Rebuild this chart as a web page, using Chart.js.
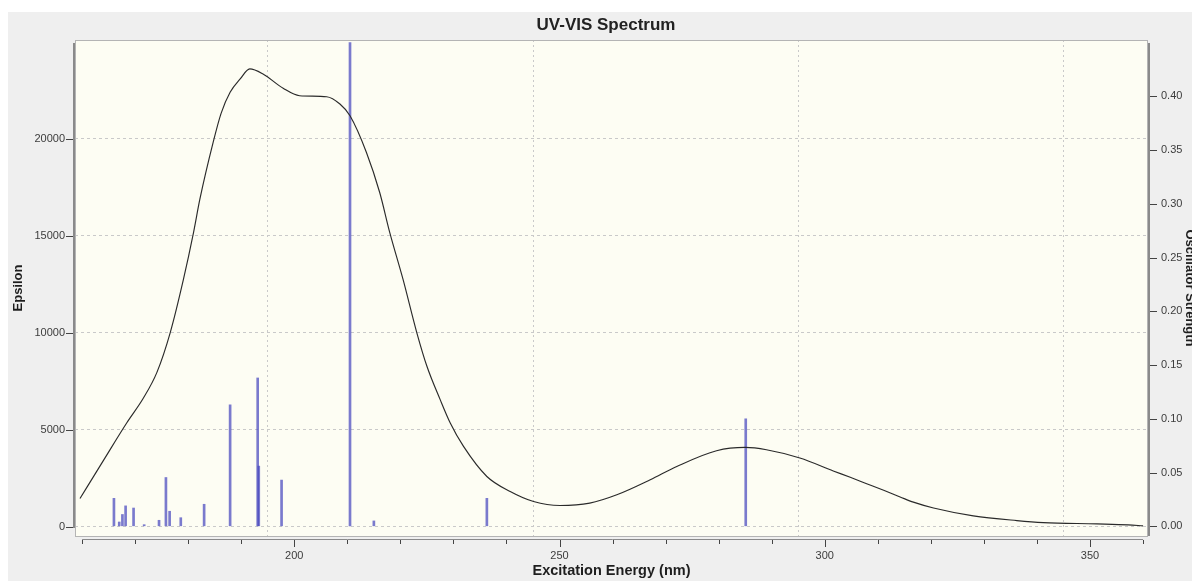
<!DOCTYPE html>
<html>
<head>
<meta charset="utf-8">
<title>UV-VIS Spectrum</title>
<script src="https://cdn.jsdelivr.net/npm/chart.js@4.4.1/dist/chart.umd.min.js"></script>
<style>
  html, body { margin: 0; padding: 0; background: #ffffff; }
  #wrap { width: 1192px; height: 581px; position: relative; }
</style>
</head>
<body>
<div id="wrap"><canvas id="spectrum" width="1192" height="581"></canvas></div>
<script>
// Broadened absorption envelope: wavelength (nm) and molar absorptivity
const specWavelength = [159.6, 164.0, 168.4, 171.5, 174.1, 176.6, 179.1, 181.0, 182.2, 184.7,
  186.2, 187.9, 189.8, 191.6, 194.1, 197.9, 201.0, 206.1, 208.6, 210.5,
  213.6, 216.1, 218.0, 220.5, 223.1, 225.0, 227.5, 229.4, 231.9, 236.3,
  240.7, 245.1, 250.1, 255.7, 260.8, 267.1, 272.1, 279.6, 285.0, 289.0,
  295.3, 301.6, 304.8, 307.9, 311.1, 314.2, 316.7, 320.5, 328.0, 336.2,
  341.2, 351.3, 357.2, 360.0];
const specEpsilon = [1450, 3400, 5340, 6600, 7950, 9989, 12742, 15154, 16874, 19803,
  21300, 22385, 23073, 23590, 23331, 22592, 22210, 22158, 21780, 21177,
  19286, 17220, 15154, 12742, 9989, 8264, 6544, 5340, 4132, 2583,
  1808, 1291, 1085, 1209, 1637, 2412, 3099, 3910, 4080, 3961,
  3533, 2870, 2540, 2210, 1870, 1530, 1260, 960, 553, 310,
  207, 139, 88, 36];

// Individual excited states: wavelength (nm) and oscillator strength
const stickWavelength = [166.0, 167.0, 167.6, 168.2, 169.7, 171.7, 174.5, 175.8, 176.5, 178.6,
  183.0, 187.9, 193.1, 193.3, 197.6, 210.5, 215.0, 236.3, 285.1];
const stickStrength = [0.026, 0.004, 0.011, 0.019, 0.017, 0.0015, 0.0056, 0.0454, 0.014, 0.008,
  0.0205, 0.113, 0.138, 0.056, 0.043, 0.450, 0.005, 0.026, 0.100];

// Tick positions
const xTickValues = [160, 170, 180, 190, 200, 210, 220, 230, 240, 250, 260, 270, 280, 290, 300, 310, 320, 330, 340, 350, 360];
const epsTickValues = [0, 5000, 10000, 15000, 20000];
const oscTickValues = [0, 0.05, 0.10, 0.15, 0.20, 0.25, 0.30, 0.35, 0.40];

const chartTitle = 'UV-VIS Spectrum';
const xTitle = 'Excitation Energy (nm)';
const epsTitle = 'Epsilon';
const oscTitle = 'Oscillator Strength';

const FONT = '"Liberation Sans", Arial, Helvetica, sans-serif';
const TICK_COLOR = '#3c3c3c';
const GRID_COLOR = '#c9c9c9';

// Window backdrop, plot panel, frame, axis lines, tick marks and title
const decorations = {
  id: 'decorations',
  beforeDraw(chart) {
    const { ctx, chartArea: a, width, height } = chart;
    ctx.save();
    ctx.fillStyle = '#ffffff';
    ctx.fillRect(0, 0, width, height);
    ctx.fillStyle = '#efefef';
    ctx.fillRect(8, 12, width - 8, height - 12);
    ctx.fillStyle = '#fdfdf3';
    ctx.fillRect(a.left, a.top, a.right - a.left, a.bottom - a.top);
    ctx.restore();
  },
  afterDraw(chart) {
    const { ctx, chartArea: a, scales } = chart;
    const xs = scales.x, ye = scales.yEps, yo = scales.yOsc;
    ctx.save();
    // panel frame
    ctx.strokeStyle = '#b4b4b4';
    ctx.lineWidth = 1;
    ctx.strokeRect(a.left + 0.5, a.top + 0.5, a.right - a.left - 1, a.bottom - a.top);

    // axis lines
    ctx.strokeStyle = '#8a8a8a';
    ctx.lineWidth = 2;
    ctx.beginPath();
    ctx.moveTo(a.left - 1, a.top + 3);
    ctx.lineTo(a.left - 1, a.bottom - 8);
    ctx.moveTo(a.right + 1, a.top + 3);
    ctx.lineTo(a.right + 1, a.bottom);
    ctx.stroke();
    ctx.lineWidth = 1;
    ctx.beginPath();
    ctx.moveTo(xs.getPixelForValue(xTickValues[0]), a.bottom + 3.5);
    ctx.lineTo(xs.getPixelForValue(xTickValues[xTickValues.length - 1]), a.bottom + 3.5);
    ctx.stroke();

    // tick marks
    ctx.strokeStyle = '#444444';
    ctx.lineWidth = 1;
    ctx.beginPath();
    epsTickValues.forEach(v => {
      const y = Math.round(ye.getPixelForValue(v)) + 0.5;
      ctx.moveTo(a.left - 9, y);
      ctx.lineTo(a.left - 2, y);
    });
    oscTickValues.forEach(v => {
      const y = Math.round(yo.getPixelForValue(v)) + 0.5;
      ctx.moveTo(a.right + 2, y);
      ctx.lineTo(a.right + 9, y);
    });
    xTickValues.forEach(v => {
      const x = Math.round(xs.getPixelForValue(v)) + 0.5;
      ctx.moveTo(x, a.bottom + 4);
      ctx.lineTo(x, a.bottom + (v % 50 === 0 ? 11 : 8));
    });
    ctx.stroke();

    // chart title
    ctx.fillStyle = '#222222';
    ctx.font = 'bold 17px ' + FONT;
    ctx.textAlign = 'center';
    ctx.textBaseline = 'middle';
    ctx.fillText(chartTitle, 606, 25);
    ctx.restore();
  }
};

const curvePoints = specWavelength.map((w, i) => ({ x: w, y: specEpsilon[i] }));
const stickPoints = stickWavelength.map((w, i) => ({ x: w, y: stickStrength[i] }));

new Chart(document.getElementById('spectrum'), {
  type: 'line',
  data: {
    datasets: [
      {
        type: 'line',
        label: 'Epsilon',
        data: curvePoints,
        xAxisID: 'x',
        yAxisID: 'yEps',
        borderColor: '#2a2a2a',
        borderWidth: 1.15,
        pointRadius: 0,
        fill: false,
        cubicInterpolationMode: 'monotone',
        order: 0
      },
      {
        type: 'bar',
        label: 'Oscillator Strength',
        data: stickPoints,
        xAxisID: 'x',
        yAxisID: 'yOsc',
        backgroundColor: 'rgba(70, 70, 190, 0.72)',
        borderWidth: 0,
        barThickness: 2,
        grouped: false,
        order: 1
      }
    ]
  },
  options: {
    responsive: false,
    animation: false,
    events: [],
    layout: { padding: { top: 40, left: 0, right: 0, bottom: 0 } },
    plugins: {
      legend: { display: false },
      title: { display: false },
      tooltip: { enabled: false }
    },
    scales: {
      x: {
        type: 'linear',
        position: 'bottom',
        min: 158.66,
        max: 360.93,
        offset: false,
        afterBuildTicks: s => { s.ticks = xTickValues.map(v => ({ value: v })); },
        afterFit: s => { s.height = 45; },
        ticks: {
          autoSkip: false,
          maxRotation: 0,
          padding: 13,
          color: TICK_COLOR,
          font: { family: FONT, size: 11 },
          callback: v => (v % 50 === 0 ? String(v) : '')
        },
        grid: {
          color: c => (c.tick && c.tick.value % 50 === 0 ? GRID_COLOR : 'rgba(0,0,0,0)'),
          lineWidth: 1,
          drawTicks: false
        },
        border: { display: false, dash: [2, 3] },
        title: {
          display: true,
          text: xTitle,
          color: '#1e1e1e',
          font: { family: FONT, size: 14.5, weight: 'bold' },
          padding: { top: 0, bottom: 1 }
        }
      },
      yEps: {
        type: 'linear',
        position: 'left',
        min: -485,
        max: 25082,
        afterBuildTicks: s => { s.ticks = epsTickValues.map(v => ({ value: v })); },
        afterFit: s => { s.width = 75; },
        ticks: {
          padding: 10,
          color: TICK_COLOR,
          font: { family: FONT, size: 11 },
          callback: v => String(v)
        },
        grid: { color: GRID_COLOR, lineWidth: 1, drawTicks: false },
        border: { display: false, dash: [3, 3] },
        title: {
          display: true,
          text: epsTitle,
          color: '#1e1e1e',
          font: { family: FONT, size: 13, weight: 'bold' },
          padding: { top: 11, bottom: 0 }
        }
      },
      yOsc: {
        type: 'linear',
        position: 'right',
        min: -0.00902,
        max: 0.4524,
        afterBuildTicks: s => { s.ticks = oscTickValues.map(v => ({ value: v })); },
        afterFit: s => { s.width = 44; },
        ticks: {
          padding: 13,
          color: TICK_COLOR,
          font: { family: FONT, size: 11 },
          callback: v => Number(v).toFixed(2)
        },
        grid: { drawOnChartArea: false, drawTicks: false },
        border: { display: false },
        title: {
          display: true,
          text: oscTitle,
          color: '#1e1e1e',
          font: { family: FONT, size: 13, weight: 'bold' },
          padding: { top: -5, bottom: 0 }
        }
      }
    }
  },
  plugins: [decorations]
});
</script>
</body>
</html>
